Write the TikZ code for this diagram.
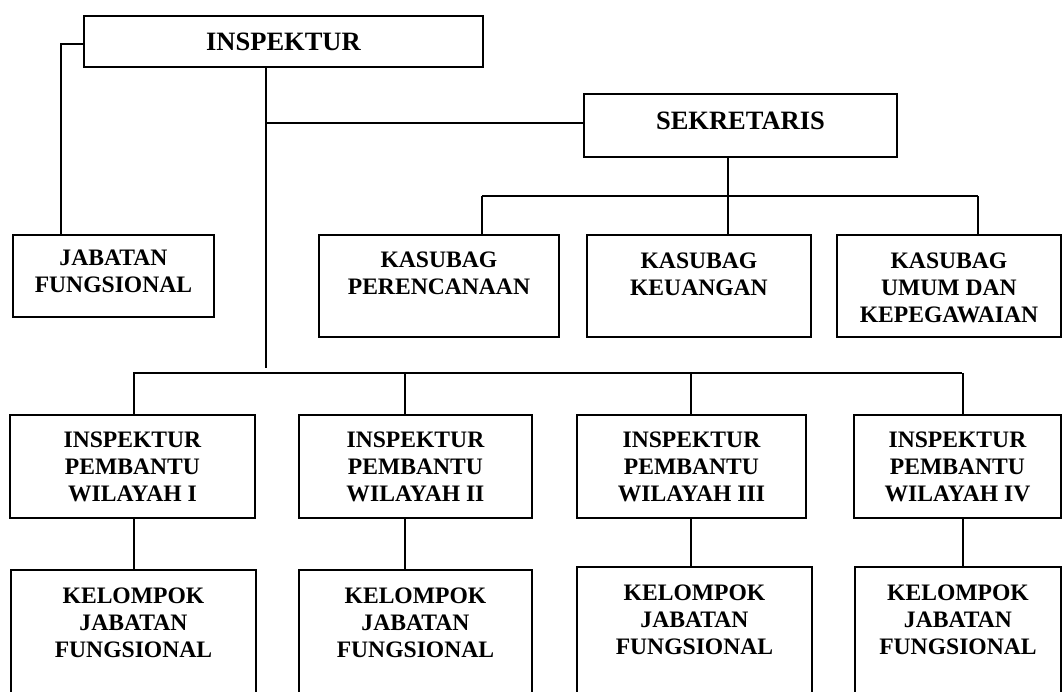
\documentclass[tikz,border=0pt]{standalone}
\usepackage{fontspec}
\setmainfont{Liberation Serif}
\usepackage{tikz}
\usetikzlibrary{positioning,calc}

\begin{document}
\begin{tikzpicture}[x=1pt,y=-1pt]
  \tikzstyle{box}=[draw, line width=1.9pt, anchor=north west, inner sep=0pt]
  \tikzstyle{lbl}=[anchor=north, align=center, inner sep=0pt, font=\bfseries\fontsize{23.6}{26.8}\selectfont]
  \tikzstyle{lblbig}=[lbl, font=\bfseries\fontsize{26.5}{30}\selectfont]
  \tikzstyle{line}=[line width=1.8pt]

  \clip (0,0) rectangle (1062,691);
  \fill[white] (0,0) rectangle (1062,691);

  % top level
  \node[box, minimum width=399pt, minimum height=51pt] (insp) at (83,15) {};
  \node[lblbig] (inspT) at ([yshift=-18pt]insp.north) {INSPEKTUR};
  \node[box, minimum width=313pt, minimum height=63pt] (sek) at (583,93) {};
  \node[lblbig] (sekT) at ([yshift=-19pt]sek.north) {SEKRETARIS};
  \node[box, minimum width=201pt, minimum height=82pt] (jab) at (12,234) {};
  \node[lbl] (jabT) at ([yshift=-16pt]jab.north) {JABATAN\\FUNGSIONAL};

  % kasubag
  \node[box, minimum width=240pt, minimum height=102pt] (per) at (318,234) {};
  \node[lbl] (perT) at ([yshift=-18pt]per.north) {KASUBAG\\PERENCANAAN};
  \node[box, minimum width=224pt, minimum height=102pt] (keu) at (586,234) {};
  \node[lbl] (keuT) at ([yshift=-19pt]keu.north) {KASUBAG\\KEUANGAN};
  \node[box, minimum width=224pt, minimum height=102pt] (umum) at (836,234) {};
  \node[lbl] (umumT) at ([yshift=-19pt]umum.north) {KASUBAG\\UMUM DAN\\KEPEGAWAIAN};

  % inspektur pembantu and kelompok jabatan fungsional
  \node[box, minimum width=245pt, minimum height=103pt] (pb1) at (9,414) {};
  \node[box, minimum width=233pt, minimum height=103pt] (pb2) at (298,414) {};
  \node[box, minimum width=229pt, minimum height=103pt] (pb3) at (576,414) {};
  \node[box, minimum width=207pt, minimum height=103pt] (pb4) at (853,414) {};
  \node[box, minimum width=245pt, minimum height=140pt] (kj1) at (10,569) {};
  \node[box, minimum width=233pt, minimum height=140pt] (kj2) at (298,569) {};
  \node[box, minimum width=235pt, minimum height=140pt] (kj3) at (576,566) {};
  \node[box, minimum width=206pt, minimum height=140pt] (kj4) at (854,566) {};
  \foreach \n/\w in {1/I,2/II,3/III,4/IV} {
    \node[lbl] (pb\n T) at ([yshift=-18pt]pb\n.north) {INSPEKTUR\\PEMBANTU\\WILAYAH \w};
    \node[lbl] (kj\n T) at ([yshift=-19pt]kj\n.north) {KELOMPOK\\JABATAN\\FUNGSIONAL};
  }

  % connectors
  \coordinate (stem) at (266,368);
  \coordinate (sekhub) at (728,196);
  \coordinate (subL) at (482,196);
  \coordinate (subR) at (978,196);
  \coordinate (busL) at (133,373);
  \coordinate (busR) at (962,373);

  \draw[line] ([yshift=-2.5pt]insp.west) -| ([xshift=-52.5pt]jab.north);
  \draw[line] (insp.south -| stem) -- (stem);
  \draw[line] ([yshift=2.5pt]sek.west) -- ([yshift=2.5pt]sek.west -| stem);
  \draw[line] (sek.south -| sekhub) -- (sekhub);
  \draw[line] (subL) -- (subR);
  \draw[line] (subL) -- (subL |- per.north);
  \draw[line] (sekhub) -- (sekhub |- keu.north);
  \draw[line] (subR) -- (subR |- umum.north);
  \draw[line] (busL) -- (busR);
  \foreach \n/\dx in {1/1.5,2/-10.5,3/-0.5,4/5.5} {
    \draw[line] ([xshift=\dx pt]pb\n.north |- busL) -- ([xshift=\dx pt]pb\n.north);
    \draw[line] ([xshift=\dx pt]pb\n.south) -- ([xshift=\dx pt]pb\n.south |- kj\n.north);
  }
\end{tikzpicture}
\end{document}
